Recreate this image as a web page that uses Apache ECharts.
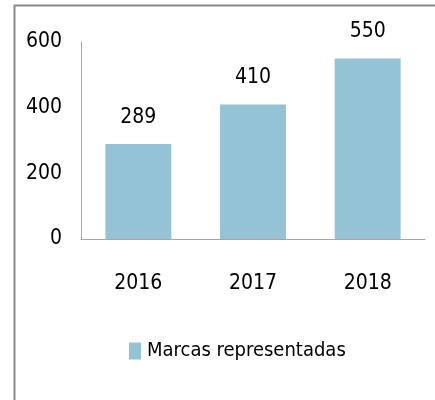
<!DOCTYPE html>
<html>
<head>
<meta charset="utf-8">
<script src="https://cdn.jsdelivr.net/npm/echarts@6/dist/echarts.min.js"></script>
<style>
  html, body { margin: 0; padding: 0; background: #fff; }
  #chart { width: 435px; height: 400px; }
</style>
</head>
<body>
<div id="chart"></div>
<script>
// 数据
const years = ["2016", "2017", "2018"];
const marcas = [289, 410, 550];
const yTicks = [0, 200, 400, 600];

const font = "'DejaVu Sans Condensed', 'Liberation Sans Narrow', sans-serif";

let myChart = echarts.init(document.getElementById("chart"));
myChart.setOption({
  animation: false,
  textStyle: { fontFamily: font },
  // 外框
  graphic: [{
    type: "rect",
    left: 12,
    top: 3,
    shape: { width: 600, height: 600 },
    style: { fill: "none", stroke: "#898989", lineWidth: 2 }
  }],
  grid: {
    left: 81,
    right: 10,
    top: 42,
    bottom: 161
  },
  legend: {
    data: ["Marcas representadas"],
    left: 124,
    top: 336,
    icon: "rect",
    itemWidth: 12,
    itemHeight: 17,
    textStyle: { fontFamily: font, fontSize: 20, color: "#000", padding: [0, 0, 0, 1] }
  },
  xAxis: {
    type: "category",
    data: years,
    axisLine: { lineStyle: { color: "#a6a6a6", width: 1 } },
    axisTick: { show: false },
    axisLabel: { fontFamily: font, fontSize: 21, color: "#000", margin: 34 }
  },
  yAxis: {
    type: "value",
    min: yTicks[0],
    max: yTicks[yTicks.length - 1],
    interval: 200,
    axisLine: { show: true, lineStyle: { color: "#a6a6a6", width: 1 } },
    axisTick: { show: false },
    splitLine: { show: false },
    axisLabel: { fontFamily: font, fontSize: 21, color: "#000", margin: 19 }
  },
  series: [{
    name: "Marcas representadas",
    type: "bar",
    data: marcas,
    barWidth: "57.5%",
    itemStyle: { color: "#93c3d5" },
    label: {
      show: true,
      position: "top",
      distance: 16,
      fontFamily: font,
      fontSize: 21,
      color: "#000"
    }
  }]
});
</script>
</body>
</html>
